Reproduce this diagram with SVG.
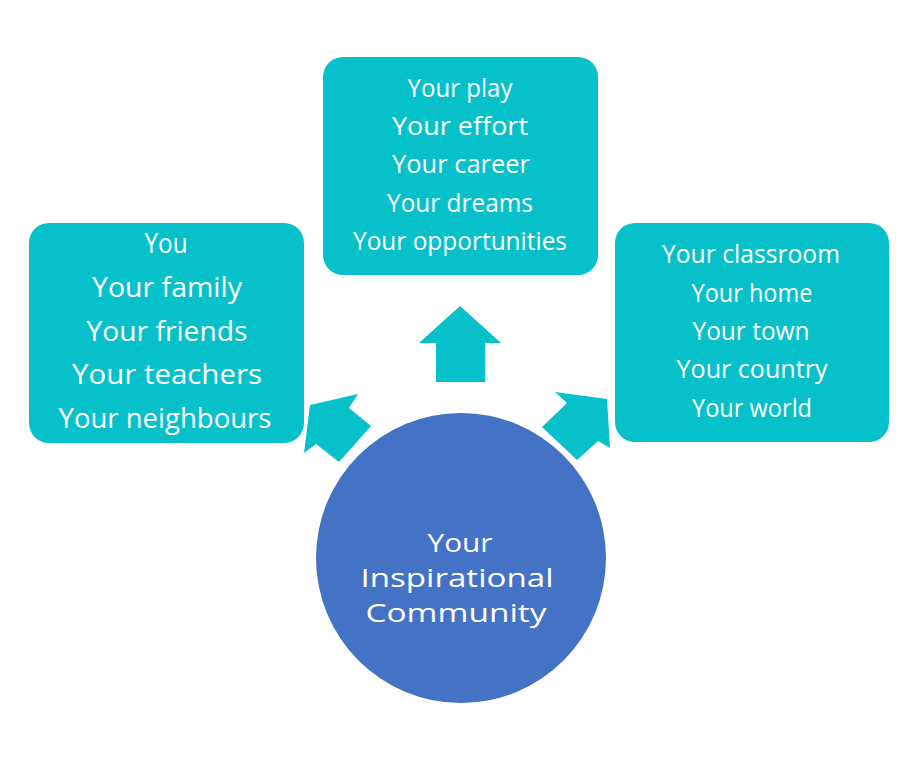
<svg xmlns="http://www.w3.org/2000/svg" width="921" height="760" viewBox="0 0 921 760">
<style>
.box{fill:#07C1CA}
.arr{fill:#07C1CA}
.hub{fill:#4472C4}
text{font-family:"Open Sans","Noto Sans","DejaVu Sans",sans-serif;fill:#ffffff;text-anchor:middle}
.t28{font-size:28px}
.t26{font-size:26px}
.t30{font-size:25px}
</style>
<rect width="921" height="760" fill="#ffffff"/>
<g id="connectors">
<polygon class="arr" points="460,306 501,343 485,343 485,382 436,382 436,343 419,343"/>
<polygon class="arr" points="310,405 358,394 349,408 371,426 339,462 316,444 304,453"/>
<polygon class="arr" points="607,399 555,392 567,403 542,427 577,460 598,441 610,448"/>
</g>
<g id="node-left">
<rect class="box" x="29" y="223" width="275" height="220" rx="20"/>
<text class="t28" x="166" y="253" textLength="43" lengthAdjust="spacingAndGlyphs">You</text>
<text class="t28" x="167" y="297" textLength="150" lengthAdjust="spacingAndGlyphs">Your family</text>
<text class="t28" x="167" y="341" textLength="161" lengthAdjust="spacingAndGlyphs">Your friends</text>
<text class="t28" x="167" y="384" textLength="190" lengthAdjust="spacingAndGlyphs">Your teachers</text>
<text class="t28" x="165" y="428" textLength="213" lengthAdjust="spacingAndGlyphs">Your neighbours</text>
</g>
<g id="node-top">
<rect class="box" x="323" y="57" width="275" height="218" rx="20"/>
<text class="t26" x="460" y="97" textLength="105" lengthAdjust="spacingAndGlyphs">Your play</text>
<text class="t26" x="460" y="135" textLength="136" lengthAdjust="spacingAndGlyphs">Your effort</text>
<text class="t26" x="461" y="173" textLength="138" lengthAdjust="spacingAndGlyphs">Your career</text>
<text class="t26" x="460" y="212" textLength="146" lengthAdjust="spacingAndGlyphs">Your dreams</text>
<text class="t26" x="460" y="250" textLength="214" lengthAdjust="spacingAndGlyphs">Your opportunities</text>
</g>
<g id="node-right">
<rect class="box" x="615" y="223" width="274" height="219" rx="20"/>
<text class="t26" x="751" y="263" textLength="178" lengthAdjust="spacingAndGlyphs">Your classroom</text>
<text class="t26" x="752" y="302" textLength="121" lengthAdjust="spacingAndGlyphs">Your home</text>
<text class="t26" x="751" y="340" textLength="117" lengthAdjust="spacingAndGlyphs">Your town</text>
<text class="t26" x="752" y="378" textLength="151" lengthAdjust="spacingAndGlyphs">Your country</text>
<text class="t26" x="752" y="417" textLength="120" lengthAdjust="spacingAndGlyphs">Your world</text>
</g>
<g id="node-center">
<circle class="hub" cx="461" cy="558" r="145"/>
<text class="t30" x="460" y="552" textLength="65" lengthAdjust="spacingAndGlyphs">Your</text>
<text class="t30" x="457" y="587" textLength="193" lengthAdjust="spacingAndGlyphs">Inspirational</text>
<text class="t30" x="456" y="622" textLength="181" lengthAdjust="spacingAndGlyphs">Community</text>
</g>
</svg>
